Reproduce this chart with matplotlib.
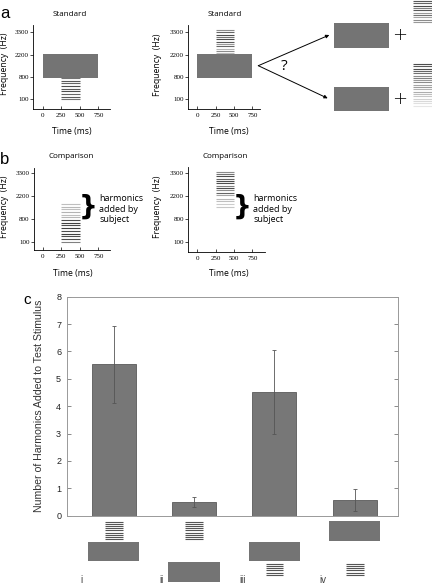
import numpy as np
import matplotlib
matplotlib.use('Agg')
import matplotlib.pyplot as plt
from matplotlib.patches import Rectangle
from matplotlib.ticker import NullLocator

# ---------------- data ----------------
FREQ_TICKS = [100, 800, 2200, 3300]
TIME_TICKS = [0, 250, 500, 750]
TONE_TIME = (0, 750)          # ms
TONE_FREQ = (780, 2230)       # Hz
HARM_TIME = (250, 500)        # ms

# harmonic stacks (frequency, grey level 0=black 1=white)
std1_harm_f = [100, 183, 266, 349, 432, 515, 598, 681, 764]
std1_harm_g = [0.45, 0.35, 0.40, 0.30, 0.35, 0.30, 0.40, 0.35, 0.45]
std2_harm_f = [2264, 2379, 2494, 2609, 2724, 2839, 2953, 3068, 3183, 3298, 3413]
std2_harm_g = [0.72, 0.55, 0.70, 0.40, 0.60, 0.35, 0.30, 0.45, 0.30, 0.40, 0.55]
cmp1_harm_f = [100, 183, 266, 349, 432, 515, 598, 681, 764, 900, 1060, 1220, 1380, 1540, 1700]
cmp1_harm_g = [0.50, 0.30, 0.30, 0.25, 0.30, 0.25, 0.30, 0.25, 0.30, 0.72, 0.75, 0.70, 0.75, 0.72, 0.75]
cmp2_harm_f = [1550, 1710, 1870, 2030, 2250, 2362, 2475, 2587, 2700, 2812, 2925, 3037, 3150, 3262, 3375]
cmp2_harm_g = [0.78, 0.80, 0.75, 0.72, 0.65, 0.40, 0.55, 0.30, 0.50, 0.30, 0.30, 0.40, 0.30, 0.45, 0.55]

conditions = ['i', 'ii', 'iii', 'iv']
means = [5.53, 0.49, 4.52, 0.56]
errors = [1.41, 0.18, 1.53, 0.40]
# icon layout per condition: row of harmonics, row of tone (1 top, 2 mid, 3 bottom)
icon_harm_row = [1, 1, 3, 3]
icon_tone_row = [2, 3, 2, 1]

W, H = 432, 584
fig = plt.figure(figsize=(W / 100, H / 100), dpi=100)

SANS = ['Open Sans', 'DejaVu Sans']
ARIAL = ['Liberation Sans', 'DejaVu Sans']
SERIF = ['Liberation Serif', 'DejaVu Serif']
TONE_C = '#747474'


def box(x0, y0, x1, y1):
    return [x0 / W, 1 - y1 / H, (x1 - x0) / W, (y1 - y0) / H]


def ftext(x, y, s, **kw):
    fig.text(x / W, 1 - y / H, s, **kw)


KF = [-600, 100, 800, 2200, 3300, 4400]
KP = [-1, 0, 1, 2, 3, 4]


def fwd(f):
    return np.interp(f, KF, KP)


def inv(p):
    return np.interp(p, KP, KF)


def schem_ax(rect, xlim, ypos):
    ax = fig.add_axes(box(*rect))
    ax.set_yscale('function', functions=(fwd, inv))
    ax.set_ylim(float(inv(ypos[0])), float(inv(ypos[1])))
    ax.set_xlim(*xlim)
    for s in ['top', 'right']:
        ax.spines[s].set_visible(False)
    for s in ['left', 'bottom']:
        ax.spines[s].set_linewidth(0.6)
    ax.set_yticks(FREQ_TICKS)
    ax.set_yticklabels([str(v) for v in FREQ_TICKS], fontfamily=SERIF)
    ax.set_xticks(TIME_TICKS)
    ax.set_xticklabels([str(v) for v in TIME_TICKS], fontfamily=SERIF)
    ax.yaxis.set_minor_locator(NullLocator())
    ax.xaxis.set_minor_locator(NullLocator())
    ax.tick_params(axis='y', direction='out', length=2, width=0.5, labelsize=5, pad=1.2)
    ax.tick_params(axis='x', direction='in', length=2.5, width=0.5, labelsize=5, pad=3)
    ax.patch.set_alpha(0)
    return ax


def harm(ax, freqs, greys, t=HARM_TIME, lw=0.8):
    for f, g in zip(freqs, greys):
        ax.plot(t, [f, f], color=str(g), lw=lw, solid_capstyle='butt')


def tone(ax):
    ax.add_patch(Rectangle((TONE_TIME[0], TONE_FREQ[0]), TONE_TIME[1] - TONE_TIME[0],
                           TONE_FREQ[1] - TONE_FREQ[0], facecolor=TONE_C, edgecolor='none'))


# ----- panel a -----
a1 = schem_ax((33.3, 25, 110, 109), (-127, 908), (-0.434, 3.327))
tone(a1)
harm(a1, std1_harm_f, std1_harm_g)
a2 = schem_ax((188.3, 25, 260, 109.3), (-123, 855), (-0.448, 3.327))
tone(a2)
harm(a2, std2_harm_f, std2_harm_g)

# ----- panel b -----
b1 = schem_ax((34, 168.3, 110, 250), (-117, 908), (-0.364, 3.22))
harm(b1, cmp1_harm_f, cmp1_harm_g)
b2 = schem_ax((188.3, 166.7, 265, 251.7), (-123, 923), (-0.439, 3.29))
harm(b2, cmp2_harm_f, cmp2_harm_g)

for (x, y) in [(70, 15), (225, 15)]:
    ftext(x, y, 'Standard', ha='center', va='center', fontsize=5.8, fontfamily=SANS)
for (x, y) in [(71, 156.7), (225, 156.7)]:
    ftext(x, y, 'Comparison', ha='center', va='center', fontsize=5.8, fontfamily=SANS)
for (x, y) in [(72, 131), (229, 131.7), (73, 273.3), (229, 273.3)]:
    ftext(x, y, 'Time (ms)', ha='center', va='center', fontsize=6.2, fontfamily=SANS)
for (x, y) in [(5, 64), (158, 65), (5, 207), (158, 207)]:
    ftext(x, y, 'Frequency  (Hz)', ha='center', va='center', rotation=90,
          fontsize=6.2, fontfamily=SANS)
for (x, y) in [(87.7, 207), (241.7, 207)]:
    ftext(x, y, '}', ha='center', va='center', fontsize=19, fontweight='bold',
          fontfamily=['DejaVu Sans'])
for x in [99.3, 253.3]:
    ftext(x, 209.3, 'harmonics\nadded by\nsubject', ha='left', va='center',
          fontsize=6.5, fontfamily=SANS, linespacing=1.2)

ftext(5, 14, 'a', ha='center', va='center', fontsize=12, fontfamily=ARIAL)
ftext(5, 159, 'b', ha='center', va='center', fontsize=12, fontfamily=ARIAL)
ftext(27, 300, 'c', ha='center', va='center', fontsize=11, fontfamily=ARIAL)

# ----- overlay decorations (panel a right side) -----
ov = fig.add_axes([0, 0, 1, 1], zorder=5)
ov.set_xlim(0, W)
ov.set_ylim(H, 0)
ov.axis('off')
ov.patch.set_alpha(0)
for (x0, y0) in [(258.3, 65.7)]:
    for (x1, y1) in [(329.3, 35), (327.7, 98.3)]:
        ov.annotate('', xy=(x1, y1), xytext=(x0, y0),
                    arrowprops=dict(arrowstyle='-|>', lw=0.7, color='black',
                                    mutation_scale=5, shrinkA=0, shrinkB=0))
ov.text(284.5, 66, '?', ha='center', va='center', fontsize=11, fontfamily=SANS)
for (x0, y0, x1, y1) in [(334, 23.3, 389.3, 47.7), (334, 86.7, 389.3, 110.7)]:
    ov.add_patch(Rectangle((x0, y0), x1 - x0, y1 - y0, facecolor=TONE_C, edgecolor='none'))
for y in [35, 99.3]:
    ov.text(400, y, '+', ha='center', va='center', fontsize=13, fontfamily=['DejaVu Sans'],
            fontweight='light')
top_g = [0.35, 0.40, 0.30, 0.50, 0.35, 0.60, 0.45, 0.65, 0.55, 0.60]
for y, g in zip(np.linspace(1, 22, len(top_g)), top_g):
    ov.plot([412.7, 440], [y, y], color=str(g), lw=0.8, solid_capstyle='butt')
bot_g = [0.30, 0.35, 0.30, 0.40, 0.45, 0.55, 0.50, 0.60, 0.55, 0.65,
         0.62, 0.70, 0.68, 0.75, 0.78, 0.82, 0.85, 0.88, 0.90]
for y, g in zip(np.linspace(64, 105.5, len(bot_g)), bot_g):
    ov.plot([412.7, 440], [y, y], color=str(g), lw=0.8, solid_capstyle='butt')

# ----- panel c -----
c = fig.add_axes(box(66.7, 296.7, 398.3, 515.7))
x = np.arange(1, len(conditions) + 1)
c.bar(x, means, width=0.55, color='#777777', edgecolor='#5a5a5a', linewidth=0.6, zorder=2)
c.errorbar(x, means, yerr=errors, fmt='none', ecolor='#555555', elinewidth=0.6,
           capsize=1.5, capthick=0.6, zorder=3)
c.set_xlim(0.415, 4.543)
c.set_ylim(0, 8)
c.set_yticks(range(0, 9))
c.set_yticklabels([str(v) for v in range(0, 9)], fontfamily=ARIAL)
c.set_xticks([])
for s in c.spines.values():
    s.set_color('#999999')
    s.set_linewidth(0.7)
c.tick_params(axis='y', direction='in', length=3, width=0.6, color='#777777',
              labelsize=6.5, labelcolor='#222222', pad=4, right=True)
ftext(39.3, 406, 'Number of Harmonics Added to Test Stimulus', ha='center', va='center',
      rotation=90, fontsize=7.6, fontfamily=ARIAL, color='#333333')

# icons under the bars (data units of panel c)
px_per_unit = (515.7 - 296.7) / 8.0
harm_rows = {1: (520.7, 540.0), 3: (562.7, 575.7)}
tone_rows = {1: (520.7, 540.7), 2: (541.7, 561.0), 3: (562.3, 581.7)}


def yv(py):
    return (515.7 - py) / px_per_unit


for xi, hr, tr, lab in zip(x, icon_harm_row, icon_tone_row, conditions):
    t0, t1 = tone_rows[tr]
    c.add_patch(Rectangle((xi - 0.321, yv(t1)), 0.642, yv(t0) - yv(t1),
                          facecolor=TONE_C, edgecolor='none', clip_on=False))
    h0, h1 = harm_rows[hr]
    n = 9 if hr == 1 else 6
    for py in np.linspace(h0 + 0.8, h1 - 0.8, n):
        c.plot([xi - 0.11, xi + 0.11], [yv(py), yv(py)], color='#555555', lw=0.8,
               clip_on=False, solid_capstyle='butt')
    c.text(xi - 0.4, yv(580), lab, ha='center', va='center', fontsize=7,
           fontfamily=ARIAL, color='#444444', clip_on=False)

fig.savefig('out.png', dpi=100)
